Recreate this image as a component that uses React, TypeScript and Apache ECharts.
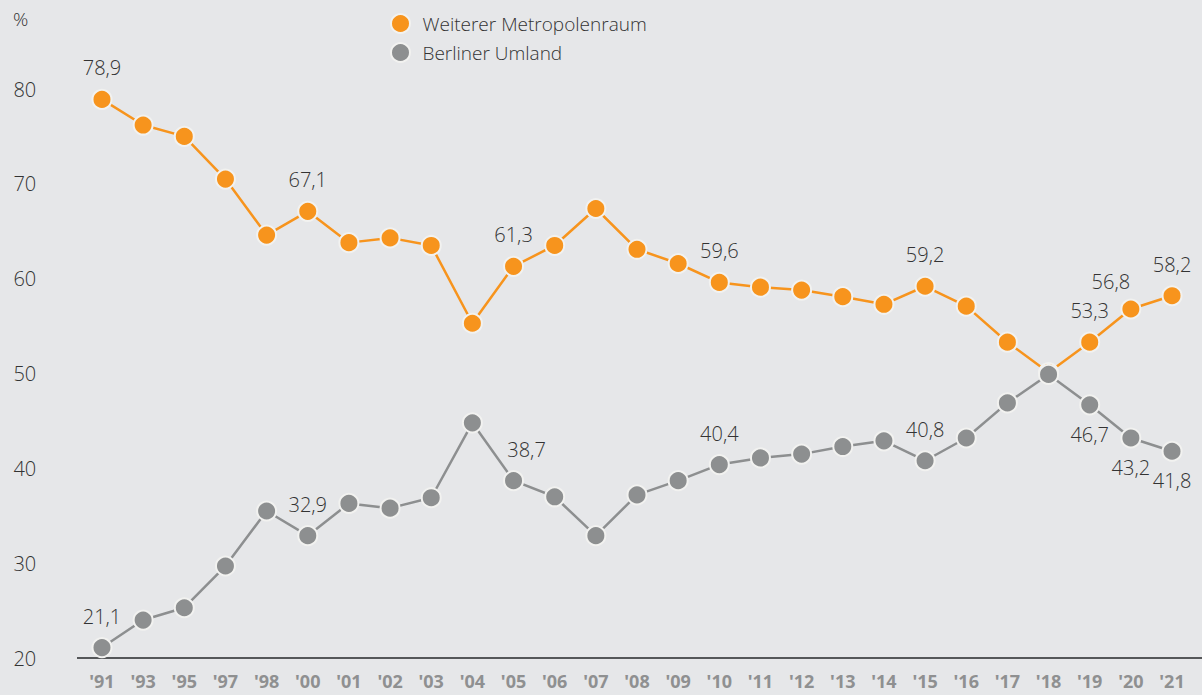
import React, { useEffect, useRef } from "react";
import * as echarts from "echarts";

const years = ["'91", "'93", "'95", "'97", "'98", "'00", "'01", "'02", "'03", "'04", "'05", "'06", "'07", "'08", "'09", "'10", "'11", "'12", "'13", "'14", "'15", "'16", "'17", "'18", "'19", "'20", "'21"];
const metro = [78.9, 76.2, 75.0, 70.5, 64.6, 67.1, 63.8, 64.3, 63.5, 55.3, 61.3, 63.5, 67.4, 63.1, 61.6, 59.6, 59.1, 58.8, 58.1, 57.3, 59.2, 57.1, 53.3, 50.1, 53.3, 56.8, 58.2];
const umland = [21.1, 24.0, 25.3, 29.7, 35.5, 32.9, 36.3, 35.8, 36.9, 44.8, 38.7, 37.0, 32.9, 37.2, 38.7, 40.4, 41.1, 41.5, 42.3, 42.9, 40.8, 43.2, 46.9, 49.9, 46.7, 43.2, 41.8];
const metroLabeled = ["'91", "'00", "'05", "'10", "'15", "'19", "'20", "'21"];
const umlandLabeledAbove = ["'91", "'00", "'05", "'10", "'15"];
const umlandLabeledBelow = ["'19", "'20", "'21"];
const yTicks = [20, 30, 40, 50, 60, 70, 80];

const ORANGE = "#f7941d";
const GREY = "#8d8f90";
const TEXT = "#333333";
const FONT = "'Open Sans', 'Noto Sans', sans-serif";
const WEIGHT = 300;

const fmt = (v: number) => v.toFixed(1).replace(".", ",");

export default function App() {
  const ref = useRef<HTMLDivElement>(null);
  useEffect(() => {
    const chart = echarts.init(ref.current!, null, { renderer: "svg" });
    const labelBase = { show: true, color: TEXT, fontSize: 20, fontWeight: WEIGHT, fontFamily: FONT, formatter: (p: any) => fmt(p.value) };
    const metroData = metro.map((v, i) => {
      const y = years[i];
      if (!metroLabeled.includes(y)) return v;
      const lab: any = { ...labelBase, position: "top", distance: 11 };
      if (y === "'20") lab.offset = [-20, 4];
      return { value: v, label: lab };
    });
    const umlandData = umland.map((v, i) => {
      const y = years[i];
      if (umlandLabeledAbove.includes(y)) {
        const lab: any = { ...labelBase, position: "top", distance: 11 };
        if (y === "'05") lab.offset = [13, 0];
        return { value: v, label: lab };
      }
      if (umlandLabeledBelow.includes(y)) {
        return { value: v, label: { ...labelBase, position: "bottom", distance: 9 } };
      }
      return v;
    });
    const seriesStyle = (color: string) => ({
      type: "line" as const,
      symbol: "circle",
      symbolSize: 19,
      lineStyle: { color, width: 2.5 },
      itemStyle: { color, borderColor: "#f2f2f0", borderWidth: 2 },
      emphasis: { disabled: true },
    });
    chart.setOption({
      animation: false,
      backgroundColor: "#e6e7e9",
      textStyle: { fontFamily: FONT },
      legend: {
        orient: "vertical",
        left: 385,
        top: 8,
        itemGap: 8,
        itemWidth: 34,
        itemHeight: 19,
        icon: "circle",
        textStyle: { color: TEXT, fontSize: 19, fontWeight: WEIGHT, fontFamily: FONT },
        data: [
          { name: "Weiterer Metropolenraum", itemStyle: { color: ORANGE, borderColor: "#f2f2f0", borderWidth: 2 } },
          { name: "Berliner Umland", itemStyle: { color: GREY, borderColor: "#f2f2f0", borderWidth: 2 } },
        ],
      },
      grid: { left: 81.4, right: 9.4, top: 89, bottom: 37 },
      xAxis: {
        type: "category",
        data: years,
        boundaryGap: true,
        axisLine: { show: false },
        axisTick: { show: false },
        axisLabel: { color: "#8f9091", fontSize: 18, fontWeight: "bold", fontFamily: "'Noto Sans', sans-serif", margin: 14, interval: 0 },
      },
      yAxis: {
        type: "value",
        min: yTicks[0],
        max: yTicks[yTicks.length - 1],
        interval: 10,
        splitLine: { show: false },
        axisLine: { show: false },
        axisTick: { show: false },
        axisLabel: { color: TEXT, fontSize: 20, fontWeight: WEIGHT, fontFamily: FONT, margin: 68, align: "left" },
      },
      graphic: [
        { type: "line", shape: { x1: 77, y1: 658, x2: 1202, y2: 658 }, style: { stroke: "#555759", lineWidth: 2 }, z: 1 },
        { type: "text", left: 13, top: 9, style: { text: "%", fill: TEXT, fontSize: 19, fontWeight: WEIGHT, fontFamily: FONT } },
      ],
      series: [
        { ...seriesStyle(ORANGE), name: "Weiterer Metropolenraum", data: metroData, z: 2 },
        { ...seriesStyle(GREY), name: "Berliner Umland", data: umlandData, z: 3 },
      ],
    });
    return () => chart.dispose();
  }, []);
  return <div ref={ref} style={{ position: "absolute", left: 0, top: 0, width: 1202, height: 695 }} />;
}
